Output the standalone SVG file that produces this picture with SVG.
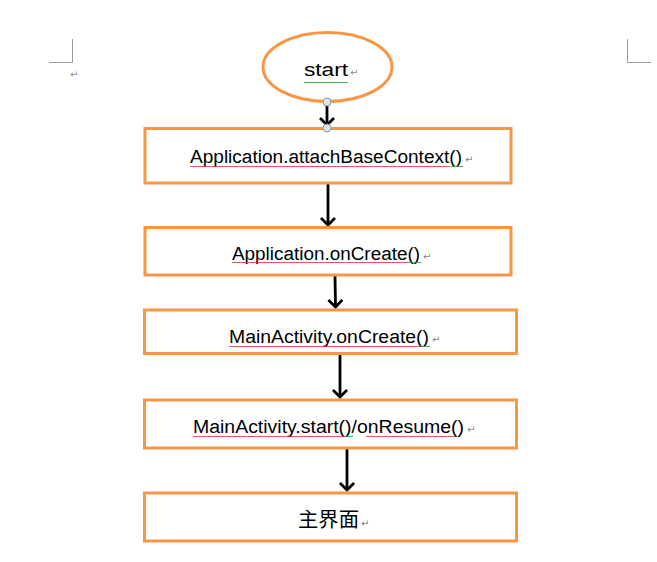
<svg xmlns="http://www.w3.org/2000/svg" width="657" height="562" viewBox="0 0 657 562">
<style>
.box{fill:#fff;stroke:#F79646;stroke-width:3}
.lbl{font-family:"Liberation Sans",Arial,sans-serif;font-size:18.8px;fill:#000}
.ret{font-family:"DejaVu Sans",sans-serif;font-size:10px;fill:#888}
.crop{stroke:#999;stroke-width:1;fill:none}
.conn{stroke:#000;stroke-width:2.8;fill:none;marker-end:url(#ah)}
.red{fill:url(#wr)}
.grn{fill:url(#wg)}
</style>
<defs>
<marker id="ah" markerWidth="16" markerHeight="18" refX="8" refY="8" orient="auto" markerUnits="userSpaceOnUse">
<path d="M1,1 L8,8 L1,15" fill="none" stroke="#000" stroke-width="2.8"/>
</marker>
<pattern id="wr" width="4" height="3" patternUnits="userSpaceOnUse"><path d="M0,2 L1,1 L2,2 L3,1 L4,2" fill="none" stroke="#e03030" stroke-width="0.8"/></pattern>
<pattern id="wg" width="4" height="3" patternUnits="userSpaceOnUse"><path d="M0,2 L1,1 L2,2 L3,1 L4,2" fill="none" stroke="#2aa02a" stroke-width="0.8"/></pattern>
</defs>
<rect width="657" height="562" fill="#fff"/>
<g id="page-marks">
<path class="crop" d="M72.5,39 V62.5 H49"/>
<path class="crop" d="M627.5,39 V62.5 H651"/>
<text class="ret" x="70" y="78">↵</text>
</g>
<g id="connectors">
<line class="conn" x1="327" y1="103" x2="327" y2="125"/>
<line class="conn" x1="328" y1="184" x2="328" y2="225"/>
<line class="conn" x1="335" y1="276" x2="335.5" y2="307"/>
<line class="conn" x1="340" y1="355" x2="340" y2="397"/>
<line class="conn" x1="347" y1="449" x2="347" y2="490"/>
</g>
<g id="node-start">
<ellipse cx="327.5" cy="67" rx="64.5" ry="34.5" fill="#fff" stroke="#F79646" stroke-width="3"/>
<text class="lbl" x="304" y="76" font-size="21" textLength="44" lengthAdjust="spacingAndGlyphs">start</text>
<rect class="grn" x="304" y="80" width="44" height="3"/>
<text class="ret" x="350" y="76">↵</text>
</g>
<g id="handles">
<circle cx="327" cy="102" r="4" fill="#d7e6ec" stroke="#8a9aa0" stroke-width="1"/>
</g>
<g id="node-attach">
<rect class="box" x="145" y="128.5" width="366" height="54.5"/>
<circle cx="327" cy="128" r="4" fill="#d7e6ec" stroke="#8a9aa0" stroke-width="1"/>
<text class="lbl" x="190" y="163" textLength="272" lengthAdjust="spacingAndGlyphs">Application.attachBaseContext()</text>
<rect class="red" x="190" y="165" width="260" height="3"/>
<rect class="grn" x="451" y="165" width="12" height="3"/>
<text class="ret" x="465" y="163">↵</text>
</g>
<g id="node-appcreate">
<rect class="box" x="145" y="227.5" width="366" height="47.5"/>
<text class="lbl" x="232" y="260" textLength="188" lengthAdjust="spacingAndGlyphs">Application.onCreate()</text>
<rect class="red" x="232" y="262" width="178" height="3"/>
<rect class="grn" x="410" y="262" width="11" height="3"/>
<text class="ret" x="423" y="260">↵</text>
</g>
<g id="node-maincreate">
<rect class="box" x="144.5" y="310" width="372" height="43.5"/>
<text class="lbl" x="229" y="343" textLength="200" lengthAdjust="spacingAndGlyphs">MainActivity.onCreate()</text>
<rect class="red" x="229" y="345" width="191" height="3"/>
<rect class="grn" x="420" y="345" width="10" height="3"/>
<text class="ret" x="432" y="343">↵</text>
</g>
<g id="node-resume">
<rect class="box" x="144.5" y="400" width="372" height="48"/>
<text class="lbl" x="193" y="433" textLength="271" lengthAdjust="spacingAndGlyphs">MainActivity.start()/onResume()</text>
<rect class="red" x="193" y="435" width="152" height="3"/>
<rect class="grn" x="345" y="435" width="8" height="3"/>
<rect class="red" x="366" y="435" width="89" height="3"/>
<text class="ret" x="467" y="433">↵</text>
</g>
<g id="node-main">
<rect class="box" x="144.5" y="493" width="372" height="48"/>
<text x="298" y="527" font-family="'Noto Sans CJK SC',sans-serif" font-size="20" textLength="61" lengthAdjust="spacingAndGlyphs" fill="#000">主界面</text>
<text class="ret" x="361" y="527">↵</text>
</g>
</svg>
